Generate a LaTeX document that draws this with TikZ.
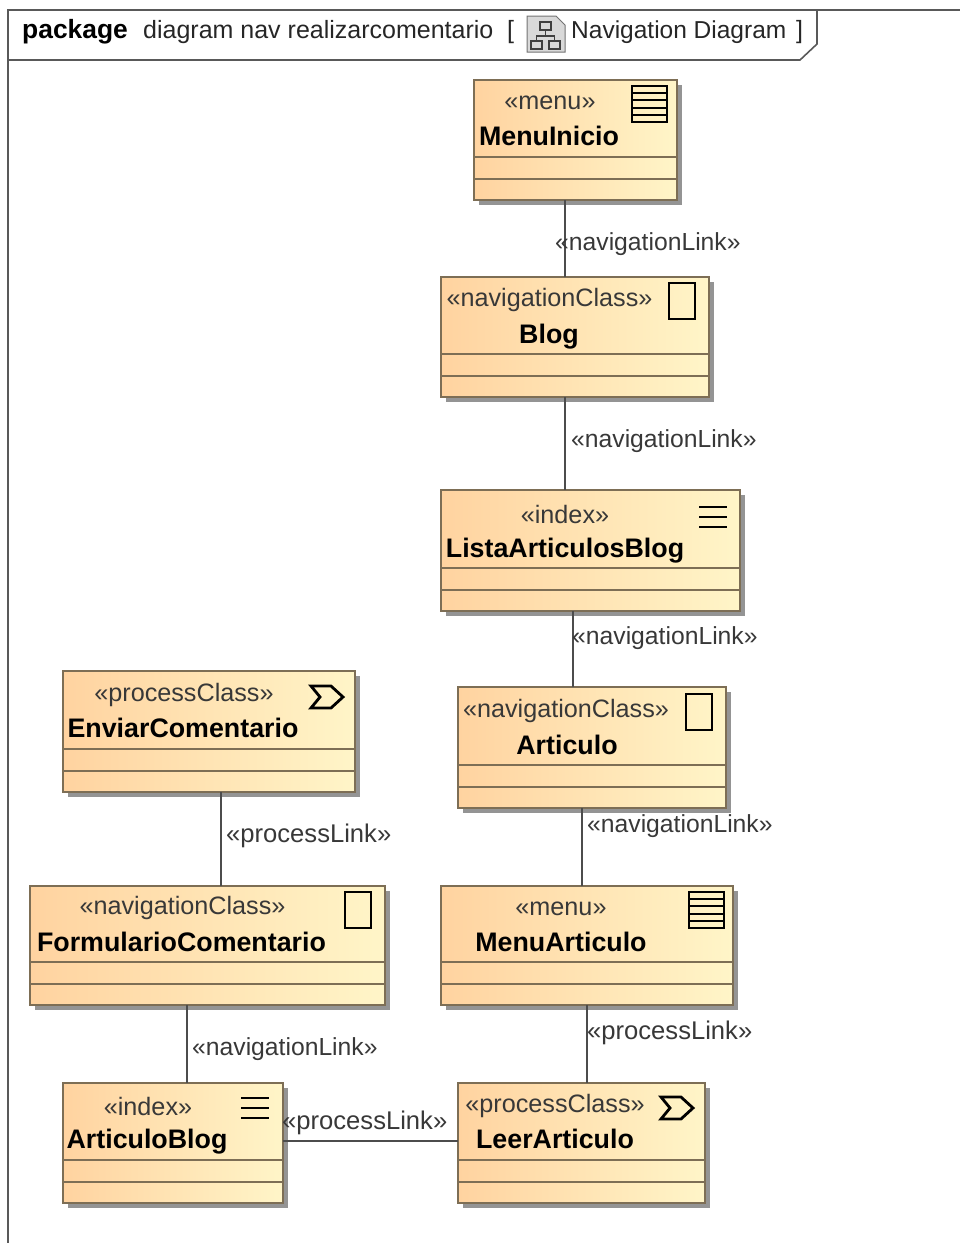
\documentclass[tikz,border=0pt]{standalone}
\usepackage{fontspec}
\setmainfont{Liberation Sans}
\usetikzlibrary{shadows}
\definecolor{boxleft}{RGB}{255,211,160}
\definecolor{boxright}{RGB}{255,245,200}
\definecolor{boxline}{RGB}{125,110,85}
\tikzstyle{frame} = [draw=black!65,line width=1.6pt]
\tikzstyle{classbox} = [draw=boxline,line width=1.5pt,left color=boxleft,right color=boxright,inner sep=0pt,outer sep=0pt,drop shadow={shadow xshift=5pt,shadow yshift=-5pt,fill=black!60,opacity=.7}]
\tikzstyle{compart} = [draw=boxline,line width=1.3pt]
\tikzstyle{link} = [draw=black!70,line width=1.7pt]
\tikzstyle{stereo} = [font=\fontsize{25.2}{29}\selectfont,text=black!78,inner sep=0pt,yshift=-2pt]
\tikzstyle{cname} = [font=\fontsize{26.8}{31}\selectfont\bfseries,inner sep=0pt,text height=20pt,text depth=0pt]
\tikzstyle{linklabel} = [font=\fontsize{24.7}{29}\selectfont,text=black!78,anchor=west,inner sep=0pt,yshift=-2pt]
\tikzstyle{proclabel} = [linklabel,font=\fontsize{25.6}{29}\selectfont]
\tikzstyle{headtext} = [font=\fontsize{25}{29}\selectfont,text=black!85,anchor=west,inner sep=0pt,yshift=-2pt]
\tikzstyle{icon} = [draw=black,line width=1.8pt]
\begin{document}
\begin{tikzpicture}[x=1pt,y=-1pt]
  \useasboundingbox (0,0) rectangle (960,1243);
  % package frame
  \draw[frame] (8,1243) -- (8,10) -- (960,10);
  \draw[frame] (8,60) -- (800,60) -- (817,44) -- (817,10);
  \node[headtext,font=\fontsize{26.4}{29}\selectfont\bfseries,text=black] (pkg) at (22,30) {package};
  \node[headtext] (title) at (143,30) {diagram nav realizarcomentario};
  \node[headtext] (open) at (507,30) {[};
  \node[headtext,font=\fontsize{24.5}{29}\selectfont] (kind) at (571,30) {Navigation Diagram};
  \node[headtext] (close) at (796,30) {]};
  % diagram icon
  \draw[draw=black!55,fill=black!15,line width=1pt] (527,16) -- (556,16) -- (565,25) -- (565,52) -- (527,52) -- cycle;
  \draw[draw=black!75,line width=1.2pt] (540,22) rectangle (551,30) (531,41) rectangle (542,49) (549,41) rectangle (560,49);
  \draw[draw=black!75,line width=1.2pt] (545.5,30) -- (545.5,36) (536.5,41) -- (536.5,36) -- (554.5,36) -- (554.5,41);

  % classes
  \node[classbox,minimum width=203pt,minimum height=120pt] at (575.5,140) (menuinicio) {};
  \node[classbox,minimum width=268pt,minimum height=120pt] at (575,337) (blog) {};
  \node[classbox,minimum width=299pt,minimum height=121pt] at (590.5,550.5) (listaarticulos) {};
  \node[classbox,minimum width=268pt,minimum height=121pt] at (592,747.5) (articulo) {};
  \node[classbox,minimum width=292pt,minimum height=121pt] at (209,731.5) (enviar) {};
  \node[classbox,minimum width=355pt,minimum height=119pt] at (207.5,945.5) (formulario) {};
  \node[classbox,minimum width=292pt,minimum height=119pt] at (587,945.5) (menuarticulo) {};
  \node[classbox,minimum width=220pt,minimum height=120pt] at (173,1143) (articuloblog) {};
  \node[classbox,minimum width=247pt,minimum height=120pt] at (581.5,1143) (leer) {};

  \foreach \n in {menuinicio,blog,listaarticulos,articulo,enviar,formulario,menuarticulo,articuloblog,leer} {
    \draw[compart] ([yshift=43pt]\n.south west) -- ([yshift=43pt]\n.south east);
    \draw[compart] ([yshift=21pt]\n.south west) -- ([yshift=21pt]\n.south east);
  }

  % texts
  \node[stereo] (s1) at (550,101) {«menu»};
  \node[cname] (n1) at (549,135) {MenuInicio};
  \node[stereo] (s2) at (549.5,298) {«navigationClass»};
  \node[cname] (n2) at (549,333) {Blog};
  \node[stereo] (s3) at (565,512) {«index»};
  \node[cname] (n3) at (565,547) {ListaArticulosBlog};
  \node[stereo] (s4) at (566,709) {«navigationClass»};
  \node[cname] (n4) at (567,744) {Articulo};
  \node[stereo] (s5) at (184,693) {«processClass»};
  \node[cname] (n5) at (183,727) {EnviarComentario};
  \node[stereo] (s6) at (182.5,906) {«navigationClass»};
  \node[cname] (n6) at (181.5,941) {FormularioComentario};
  \node[stereo] (s7) at (561,907) {«menu»};
  \node[cname] (n7) at (561,941) {MenuArticulo};
  \node[stereo] (s8) at (148,1104) {«index»};
  \node[cname] (n8) at (147,1138) {ArticuloBlog};
  \node[stereo] (s9) at (555,1104) {«processClass»};
  \node[cname] (n9) at (555,1138) {LeerArticulo};

  % icons
  \foreach \ix/\iy in {632/86,689/892} {
    \draw[icon] (\ix,\iy) rectangle ++(35,36);
    \foreach \k in {7,14,22,29}
      \draw[icon] (\ix,\iy+\k) -- ++(35,0);
  }
  \foreach \ix/\iy in {669/283,686/694,345/892}
    \draw[icon] (\ix,\iy) rectangle ++(26,36);
  \foreach \ix/\iy in {699/507,241/1098} {
    \foreach \k in {0,10,20}
      \draw[icon] (\ix,\iy+\k) -- ++(28,0);
  }
  \foreach \ix/\iy in {311/686,661/1097}
    \draw[icon,line width=2.8pt] (\ix,\iy) -- ++(20,0) -- ++(12,11) -- ++(-12,11) -- ++(-20,0) -- ++(9,-11) -- cycle;

  % links
  \draw[link] ([xshift=-10.5pt]menuinicio.south) -- ([xshift=-10pt]blog.north);
  \draw[link] ([xshift=-10pt]blog.south) -- ([xshift=-25.5pt]listaarticulos.north);
  \draw[link] ([xshift=-17.5pt]listaarticulos.south) -- ([xshift=-19pt]articulo.north);
  \draw[link] ([xshift=-10pt]articulo.south) -- ([xshift=-5pt]menuarticulo.north);
  \draw[link] (menuarticulo.south) -- ([xshift=5.5pt]leer.north);
  \draw[link] ([xshift=12pt]enviar.south) -- ([xshift=13.5pt]formulario.north);
  \draw[link] ([xshift=-20.5pt]formulario.south) -- ([xshift=14pt]articuloblog.north);
  \draw[link] ([yshift=2pt]articuloblog.east) -- ([yshift=2pt]leer.west);

  \node[linklabel] (l1) at (555,242) {«navigationLink»};
  \node[linklabel] (l2) at (571,439) {«navigationLink»};
  \node[linklabel] (l3) at (572,636) {«navigationLink»};
  \node[linklabel] (l4) at (587,824) {«navigationLink»};
  \node[proclabel] (l5) at (587,1031) {«processLink»};
  \node[proclabel] (l6) at (226,834) {«processLink»};
  \node[linklabel] (l7) at (192,1047) {«navigationLink»};
  \node[proclabel] (l8) at (282,1121) {«processLink»};
\end{tikzpicture}
\end{document}
